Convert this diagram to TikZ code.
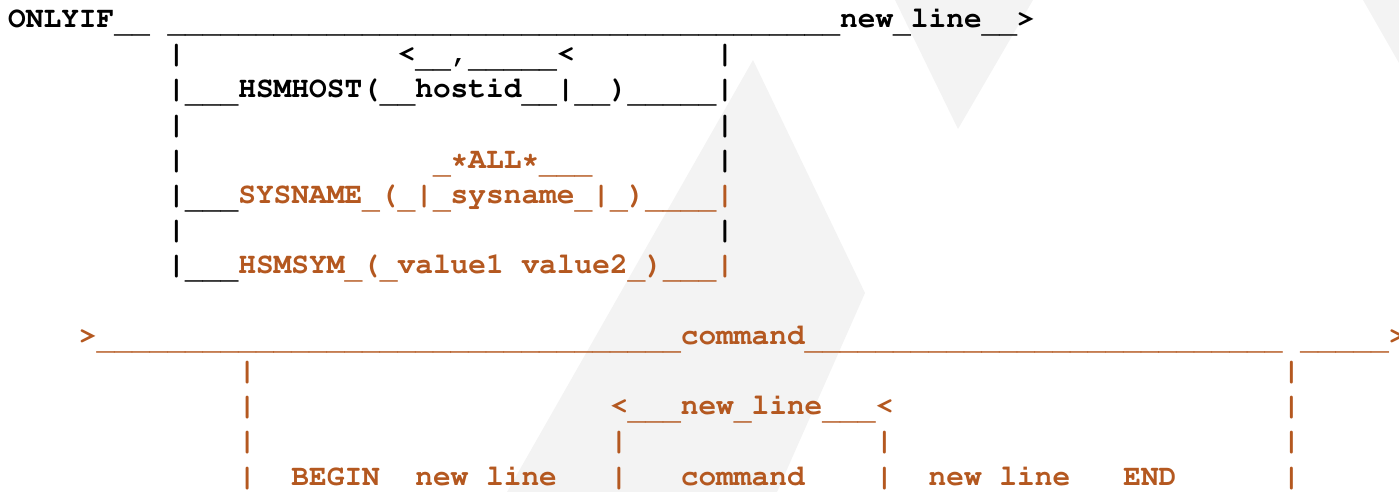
\documentclass[tikz,border=0pt]{standalone}
\usepackage[T1,TU]{fontenc}
\usepackage{xcolor}
\usepackage{tikz}

\definecolor{synbrown}{RGB}{180,88,32}
\definecolor{wmgray}{RGB}{243,243,243}
\newcommand\synfont{\fontencoding{T1}\fontfamily{pcr}\fontseries{b}\fontsize{29.5}{35}\selectfont}
\newcommand\usc{\raisebox{-5pt}{\_}}
\newcommand\us[1]{\foreach\k in {1,...,#1}{\usc}}

\tikzset{
    seg/.style={anchor=base west, inner sep=0pt, font=\synfont},
    blk/.style={seg, text=black},
    brn/.style={seg, text=synbrown}
}

\begin{document}
\begin{tikzpicture}[x=1pt,y=-1pt]
        \useasboundingbox (0,0) rectangle (1399,492);

        % Watermark
        \fill[wmgray] (507,492) -- (753,60) -- (865,293) -- (777,492) -- cycle;
        \fill[wmgray] (895,0) -- (1033,0) -- (958,129) -- cycle;
        \fill[wmgray] (1363,0) -- (1399,0) -- (1399,63) -- cycle;

        \begin{scope}[shift={(8,27.5)}, x=17.7pt, y=-35.2pt]
        % ONLYIF line
        \node[blk] (onlyif) at (0,0) {ONLYIF\usc\usc};
        \node[blk] (toprail) at (9,0) {\us{38}new\usc line\usc\usc>};

        % HSMHOST
        \node[blk] (hostbarL) at (9,1) {|};
        \node[blk] (hostloop) at (22,1) {<\usc\usc,\us{5}<};
        \node[blk] (hostbarR) at (40,1) {|};
        \node[blk] (hostrow) at (9,2) {|\usc\usc\usc HSMHOST(\usc\usc hostid\usc\usc|\usc\usc)\us{5}|};
        \node[blk] (gapLa) at (9,3) {|};
        \node[blk] (gapRa) at (40,3) {|};

        % SYSNAME
        \node[blk] (sysbarL) at (9,4) {|};
        \node[brn] (sysall) at (24,4) {\usc*ALL*\usc\usc\usc};
        \node[blk] (sysbarR) at (40,4) {|};
        \node[blk] (sysfeed) at (9,5) {|\usc\usc\usc};
        \node[brn] (sysrow) at (13,5) {SYSNAME\usc(\usc|\usc sysname\usc|\usc)\us{4}|};
        \node[blk] (gapLb) at (9,6) {|};
        \node[blk] (gapRb) at (40,6) {|};

        % HSMSYM
        \node[blk] (symfeed) at (9,7) {|\usc\usc\usc};
        \node[brn] (symrow) at (13,7) {HSMSYM\usc(\usc value1};
        \node[brn] (symval) at (29,7) {value2\usc)\us{3}|};

        % command line
        \node[brn] (cmdin) at (4,9) {>\us{33}command\us{27}};
        \node[brn] (cmdout) at (73,9) {\us{5}>};
        \node[brn] (grpLa) at (13,10) {|};
        \node[brn] (grpRa) at (72,10) {|};
        \node[brn] (grpLb) at (13,11) {|};
        \node[brn] (nlloop) at (34,11) {<\us{3}new\usc line\us{3}<};
        \node[brn] (grpRb) at (72,11) {|};
        \node[brn] (grpLc) at (13,12) {|};
        \node[brn] (loopL) at (34,12) {|};
        \node[brn] (loopR) at (49,12) {|};
        \node[brn] (grpRc) at (72,12) {|};
        \node[brn] (grprow) at (13,13) {|\us{2}BEGIN\us{2}new\usc line\us{3}|\us{3}command\us{4}|\us{2}new\usc line\us{3}END\us{6}|};
        \end{scope}
    \end{tikzpicture}
\end{document}
